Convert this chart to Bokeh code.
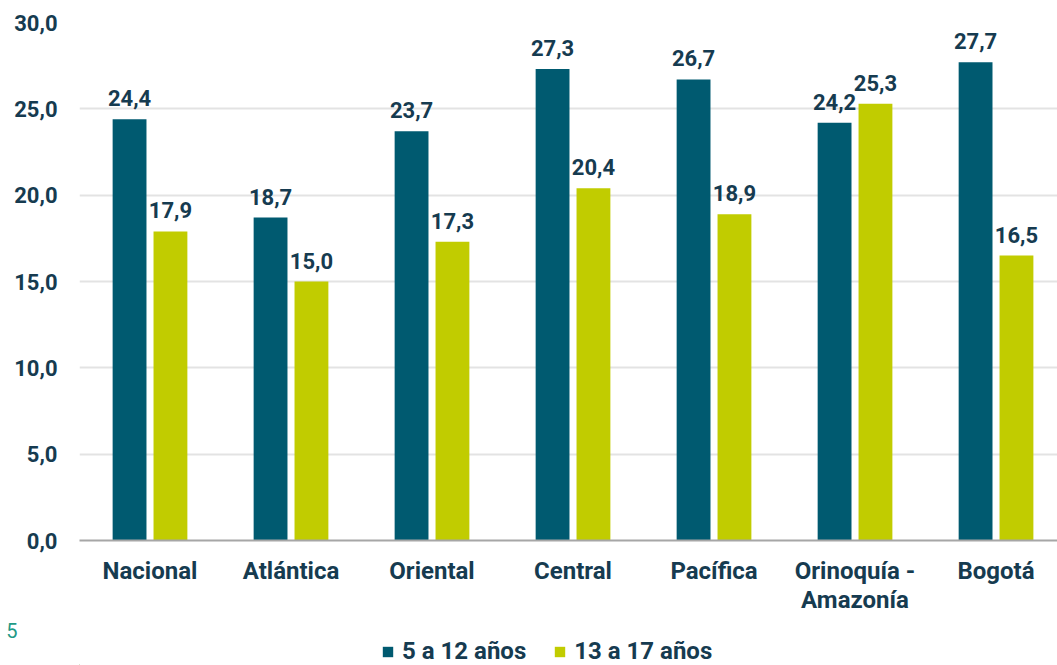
import numpy as np
from bokeh.plotting import figure
from bokeh.layouts import column
from bokeh.models import (ColumnDataSource, FixedTicker, CustomJSTickFormatter, Legend,
                          LegendItem, Range1d)
from bokeh.embed import file_html
from bokeh.resources import INLINE
from bokeh.core.properties import value

categories = ["Nacional", "Atlántica", "Oriental", "Central", "Pacífica",
              "Orinoquía -\nAmazonía", "Bogotá"]
series_5_12 = [24.4, 18.7, 23.7, 27.3, 26.7, 24.2, 27.7]
series_13_17 = [17.9, 15.0, 17.3, 20.4, 18.9, 25.3, 16.5]
series_names = ["5 a 12 años", "13 a 17 años"]
y_ticks = [0, 5, 10, 15, 20, 25, 30]
footnote = "5"

BLUE = "#005a70"
GREEN = "#c1cc00"
TEXT = "#163b50"
FONT = "Roboto"
FS = "22px"
FS_CAT = "24px"

idx = np.arange(len(categories))
off = 0.145
bw = 0.24

def fmt(v):
    return f"{v:.1f}".replace(".", ",")

src1 = ColumnDataSource(dict(x=idx - off, top=series_5_12,
                             lbl=[fmt(v) for v in series_5_12]))
src2 = ColumnDataSource(dict(x=idx + off, top=series_13_17,
                             lbl=[fmt(v) for v in series_13_17]))

p = figure(frame_width=978, frame_height=518, output_backend="svg", toolbar_location=None,
           x_range=Range1d(-0.5, 6.436), y_range=Range1d(0, 30),
           min_border_left=79, min_border_right=0, min_border_top=22,
           min_border_bottom=80)
p.outline_line_color = None

r1 = p.vbar(x="x", top="top", width=bw, source=src1, color=BLUE, line_color=None)
r2 = p.vbar(x="x", top="top", width=bw, source=src2, color=GREEN, line_color=None)

for s in (src1, src2):
    p.text(x="x", y="top", text="lbl", source=s, text_align="center",
           text_baseline="bottom", y_offset=-13, text_color=TEXT,
           text_font=value(FONT), text_font_style="bold", text_font_size=FS)

p.xgrid.grid_line_color = None
p.ygrid.grid_line_color = "#e3e3e3"
p.ygrid.grid_line_width = 2
p.yaxis.ticker = FixedTicker(ticks=y_ticks)
p.yaxis.formatter = CustomJSTickFormatter(code="return tick.toFixed(1).replace('.', ',');")
p.yaxis.axis_line_color = None
p.yaxis.major_tick_line_color = None
p.yaxis.minor_tick_line_color = None
p.yaxis.major_tick_out = 0
p.yaxis.major_label_standoff = 22
p.yaxis.major_label_text_font = FONT
p.yaxis.major_label_text_font_style = "bold"
p.yaxis.major_label_text_font_size = FS
p.yaxis.major_label_text_color = TEXT

p.xaxis.ticker = FixedTicker(ticks=list(range(len(categories))))
p.xaxis.major_label_overrides = {i: c for i, c in enumerate(categories)}
p.xaxis.axis_line_color = "#a6a6a6"
p.xaxis.axis_line_width = 2
p.xaxis.major_tick_line_color = None
p.xaxis.minor_tick_line_color = None
p.xaxis.major_tick_out = 0
p.xaxis.major_label_standoff = 16
p.xaxis.major_label_text_font = FONT
p.xaxis.major_label_text_font_style = "bold"
p.xaxis.major_label_text_font_size = FS_CAT
p.xaxis.major_label_text_color = TEXT
p.xaxis.major_label_text_line_height = 1.06

# strip below the chart: footnote marker (as a lone tick label) and legend
q = figure(frame_width=978, height=45, output_backend="svg", toolbar_location=None,
           x_range=Range1d(0, 978), y_range=Range1d(0, 45),
           min_border_left=79, min_border_right=0, min_border_top=0, min_border_bottom=0,
           x_axis_type=None)
q.outline_line_color = None
q.grid.grid_line_color = None
q.yaxis.ticker = FixedTicker(ticks=[35])
q.yaxis.major_label_overrides = {35: footnote}
q.yaxis.axis_line_color = None
q.yaxis.major_tick_line_color = None
q.yaxis.minor_tick_line_color = None
q.yaxis.major_tick_in = 0
q.yaxis.major_tick_out = 0
q.yaxis.minor_tick_in = 0
q.yaxis.minor_tick_out = 0
q.yaxis.major_label_standoff = 62
q.yaxis.major_label_text_font = FONT
q.yaxis.major_label_text_font_size = "20px"
q.yaxis.major_label_text_color = "#1f9a86"

d1 = q.vbar(x=[-5000], top=[1], width=1, color=BLUE, line_color=None)
d2 = q.vbar(x=[-5000], top=[1], width=1, color=GREEN, line_color=None)
legend = Legend(items=[LegendItem(label=series_names[0], renderers=[d1]),
                       LegendItem(label=series_names[1], renderers=[d2])],
                orientation="horizontal", location=(302, 0),
                label_text_font=FONT, label_text_font_style="bold",
                label_text_font_size=FS_CAT, label_text_color=TEXT,
                glyph_width=13, glyph_height=13, label_standoff=8,
                spacing=27, border_line_color=None, background_fill_alpha=0,
                padding=0, margin=0)
q.add_layout(legend, "center")

open("out.html", "w").write(file_html(column(p, q, spacing=0), INLINE))
